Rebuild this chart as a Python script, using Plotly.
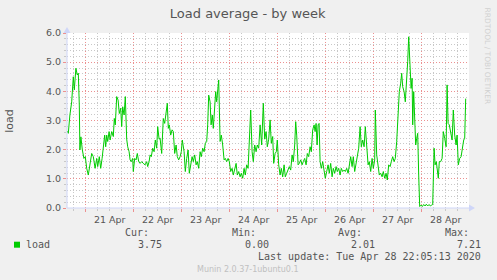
import plotly.graph_objects as go
import pandas as pd

# ---------------- data ----------------
# hours relative to 2020-04-21 00:00
hours = [-9.2, -8.7, -7.9, -7.0, -6.2, -5.7, -4.9, -4.2, -3.7, -3.2, -2.9, -2.4, -1.7, -0.9, -0.2,
         0.5, 1.3, 2.2, 3.0, 3.8, 4.7, 5.5, 6.0, 6.8, 7.5, 8.2, 8.8, 9.5, 10.0, 10.5, 11.0, 11.7,
         12.2, 13.0, 13.8, 14.3, 14.8, 15.5, 16.2, 16.8, 17.5, 18.0, 18.5, 19.2, 19.8, 20.5, 21.0,
         21.7, 22.2, 22.8, 23.5, 23.8, 24.5, 25.2, 25.8, 26.5, 27.2, 28.0, 28.8, 29.7, 30.5, 31.0,
         31.7, 32.2, 32.8, 33.5, 34.2, 34.8, 35.5, 36.0, 36.7, 37.2, 38.0, 38.8, 39.5, 40.2, 40.8,
         41.3, 41.8, 42.5, 43.2, 43.8, 44.5, 45.2, 45.8, 46.5, 47.2, 47.8, 48.3, 49.2, 49.8, 50.5,
         51.2, 51.8, 52.5, 53.2, 53.8, 54.5, 55.2, 55.8, 56.5, 57.2, 57.8, 58.5, 59.2, 59.8, 60.5,
         61.0, 61.5, 62.2, 62.7, 63.3, 63.8, 64.5, 65.0, 65.5, 66.0, 66.5, 67.2, 67.8, 68.5, 69.2,
         69.8, 70.5, 71.2, 71.8, 72.5, 73.2, 73.8, 74.5, 75.2, 75.8, 76.5, 77.2, 77.8, 78.5, 79.2,
         79.8, 80.5, 81.2, 81.8, 82.5, 83.2, 83.8, 84.5, 85.2, 85.8, 86.5, 87.2, 88.0, 88.8, 89.5,
         90.2, 90.8, 91.5, 92.2, 92.8, 93.5, 94.0, 94.7, 95.3, 95.8, 96.5, 97.2, 97.8, 98.5, 99.2,
         99.8, 100.5, 101.2, 101.8, 102.5, 103.2, 103.8, 104.5, 105.0, 105.5, 106.2, 106.8, 107.5,
         108.2, 108.8, 109.5, 110.2, 110.8, 111.5, 112.2, 112.8, 113.5, 114.2, 114.7, 115.2, 115.7,
         116.2, 116.7, 117.2, 117.8, 118.5, 119.2, 119.8, 120.5, 121.2, 121.8, 122.5, 123.2, 123.8,
         124.5, 125.2, 125.8, 126.5, 127.2, 127.8, 128.5, 129.2, 129.8, 130.5, 131.2, 131.8, 132.5,
         133.2, 133.8, 134.5, 135.2, 135.8, 136.5, 137.2, 137.8, 138.5, 139.2, 139.8, 140.5, 141.2,
         141.8, 142.5, 143.2, 143.8, 144.5, 144.8, 145.5, 146.2, 146.8, 147.5, 148.2, 148.8, 149.5,
         150.2, 150.8, 151.5, 152.2, 152.8, 153.5, 154.2, 154.8, 155.5, 156.2, 156.8, 157.5, 158.0,
         158.5, 159.2, 159.8, 160.5, 161.0, 161.5, 162.2, 162.7, 163.2, 163.5, 164.0, 164.5, 165.0,
         165.5, 166.0, 166.5, 167.0, 167.7, 168.3, 169.0, 169.7, 170.3, 171.0, 171.7, 172.3, 173.0,
         173.5, 174.2, 174.7, 175.3, 175.8, 176.3, 176.8, 177.5, 178.2, 178.8, 179.5, 180.2, 180.7,
         181.2, 181.8, 182.5, 183.2, 183.8, 184.5, 185.2, 185.7, 186.3, 187.0, 187.7, 188.3, 189.0,
         189.5, 190.0]

load = [2.64, 2.56, 3.19, 3.64, 4.50, 4.05, 4.79, 4.56, 4.62, 3.53, 1.99, 2.44, 2.00, 1.70, 1.76,
        1.36, 1.13, 1.48, 1.87, 1.76, 1.36, 1.70, 1.42, 1.76, 1.36, 1.70, 2.16, 2.50, 2.10, 2.50,
        2.28, 2.62, 2.33, 2.62, 2.45, 3.07, 2.85, 3.82, 3.70, 3.24, 3.42, 2.79, 3.47, 3.19, 3.82,
        2.36, 2.10, 1.93, 1.65, 1.59, 1.70, 1.25, 1.70, 1.65, 1.87, 1.59, 1.53, 1.59, 1.53, 1.48,
        1.59, 1.42, 1.59, 1.82, 1.76, 2.05, 1.93, 2.33, 2.05, 2.79, 2.36, 2.39, 1.87, 3.07, 2.90,
        3.19, 3.59, 2.73, 2.85, 2.50, 2.68, 2.62, 1.87, 2.16, 1.76, 1.65, 1.76, 1.93, 2.33, 1.93,
        1.25, 1.70, 1.99, 1.19, 1.48, 1.76, 1.59, 1.82, 1.48, 1.59, 1.36, 1.93, 1.76, 2.05, 1.93,
        2.22, 2.28, 2.85, 3.87, 3.64, 2.85, 3.19, 2.73, 3.30, 3.99, 3.64, 4.05, 4.39, 2.28, 2.50,
        2.16, 1.65, 1.70, 1.59, 1.70, 1.59, 1.25, 1.36, 1.13, 1.30, 1.53, 1.13, 1.25, 1.07, 1.19,
        1.02, 1.36, 1.13, 1.48, 1.36, 2.16, 3.36, 1.93, 1.59, 2.16, 1.93, 2.16, 2.05, 2.85, 2.16,
        3.59, 2.36, 2.62, 2.10, 2.36, 3.02, 2.22, 2.45, 1.53, 1.87, 1.93, 2.33, 1.48, 1.13, 1.36,
        1.07, 1.48, 1.07, 1.19, 1.36, 1.42, 1.30, 1.82, 1.59, 2.16, 2.96, 2.50, 1.48, 1.53, 1.65,
        1.48, 1.59, 1.70, 1.48, 1.87, 1.76, 2.10, 1.93, 2.68, 2.85, 2.62, 2.90, 2.16, 2.85, 2.90,
        1.59, 1.36, 1.59, 1.19, 1.02, 1.25, 1.48, 1.19, 1.53, 1.07, 1.36, 1.19, 1.42, 1.25, 1.36,
        1.13, 1.36, 1.25, 1.30, 1.25, 1.36, 1.19, 1.48, 1.76, 1.42, 1.76, 1.25, 1.59, 1.87, 2.05,
        2.79, 2.10, 2.33, 2.10, 2.79, 2.05, 1.48, 1.59, 1.25, 1.70, 1.36, 1.65, 3.36, 1.82, 1.36,
        1.13, 1.19, 1.07, 1.25, 1.02, 1.19, 0.96, 1.48, 1.42, 1.59, 1.76, 1.59, 1.70, 2.28, 3.07,
        3.99, 4.28, 4.62, 4.16, 3.99, 3.64, 4.39, 5.02, 5.87, 4.67, 4.10, 4.45, 2.85, 3.99, 2.62,
        2.16, 2.39, 2.56, 1.13, 0.05, 0.10, 0.05, 0.12, 0.07, 0.13, 0.07, 0.12, 0.07, 0.10, 0.12,
        2.05, 1.48, 1.59, 1.25, 1.02, 1.59, 1.59, 1.70, 2.62, 2.39, 2.10, 4.22, 2.90, 2.85, 2.56,
        2.33, 3.36, 2.50, 2.16, 2.50, 1.48, 1.70, 1.76, 2.05, 2.33, 2.39, 3.75]

series_name = "load"
stat_labels = ["Cur:", "Min:", "Avg:", "Max:"]
stat_values = ["3.75", "0.00", "2.01", "7.21"]
title_text = "Load average - by week"
y_title = "load"
last_update = "Last update: Tue Apr 28 22:05:13 2020"
footer = "Munin 2.0.37-1ubuntu0.1"
watermark = "RRDTOOL / TOBI OETIKER"

base = pd.Timestamp("2020-04-21 00:00")
times = [base + pd.Timedelta(hours=h) for h in hours]
x_start = base + pd.Timedelta(hours=-9.35)
x_end = base + pd.Timedelta(hours=191.65)

# ---------------- layout helpers ----------------
W, H = 497, 280
L, R, T, B = 67, 28, 33, 72
PW, PH = W - L - R, H - T - B


def px(x):
    return (x - L) / PW


def py(y):
    return (H - B - y) / PH


FONT = "DejaVu Sans"
MONO = "DejaVu Sans Mono"
TXT = "#555555"
GREEN = "#00CC00"
AXIS = "#CFD6F8"
MGRID = "#EC9090"
GRID = "#C8C8C8"

fig = go.Figure()
fig.add_trace(go.Scatter(x=times, y=load, mode="lines",
                         line=dict(color=GREEN, width=1), showlegend=False,
                         hoverinfo="skip"))

fig.update_layout(
    width=W, height=H,
    margin=dict(l=L, r=R, t=T, b=B, pad=0),
    paper_bgcolor="#F0F0F0", plot_bgcolor="#FFFFFF",
    font=dict(family=FONT, size=10, color=TXT),
    title=dict(text=title_text, x=247.7 / W, y=1 - 13.5 / H, xanchor="center",
               yanchor="middle", xref="container", yref="container",
               font=dict(family=FONT, size=13, color=TXT)),
    xaxis=dict(type="date", range=[x_start, x_end], tick0="2020-04-21",
               dtick=86400000, ticklabelmode="period", tickformat="%d %b",
               showgrid=True, gridcolor=MGRID, griddash="1px,2px", gridwidth=1,
               ticks="outside", ticklen=3, tickcolor=MGRID,
               tickfont=dict(family=FONT, size=9.5, color=TXT),
               minor=dict(dtick=6 * 3600000, showgrid=True, gridcolor=GRID,
                          griddash="1px,2px", ticks="outside", ticklen=2,
                          tickcolor=GRID),
               showline=False, zeroline=False, fixedrange=True),
    yaxis=dict(range=[0, 6], dtick=1, tick0=0, tickformat=".1f",
               showgrid=True, gridcolor=MGRID, griddash="1px,2px", gridwidth=1,
               ticks="outside", ticklen=3, tickcolor=MGRID,
               tickfont=dict(family=FONT, size=9.5, color=TXT),
               minor=dict(dtick=0.2, showgrid=True, gridcolor=GRID,
                          griddash="1px,2px", ticks="outside", ticklen=2,
                          tickcolor=GRID),
               showline=False, zeroline=False, fixedrange=True),
)

shapes = []
# axis lines
shapes.append(dict(type="line", xref="paper", yref="paper", x0=px(67), x1=px(470),
                   y0=py(208), y1=py(208), line=dict(color=AXIS, width=1), layer="above"))
shapes.append(dict(type="line", xref="paper", yref="paper", x0=px(67), x1=px(67),
                   y0=py(208), y1=py(29), line=dict(color=AXIS, width=1), layer="above"))
# arrows
shapes.append(dict(type="path", xref="paper", yref="paper",
                   path=f"M {px(469)} {py(204.5)} L {px(475)} {py(208)} L {px(469)} {py(211.5)} Z",
                   fillcolor=AXIS, line=dict(color=AXIS, width=0), layer="above"))
shapes.append(dict(type="path", xref="paper", yref="paper",
                   path=f"M {px(63.5)} {py(33)} L {px(67)} {py(27)} L {px(70.5)} {py(33)} Z",
                   fillcolor=AXIS, line=dict(color=AXIS, width=0), layer="above"))
# legend swatch
shapes.append(dict(type="rect", xref="paper", yref="paper", x0=px(14), x1=px(20),
                   y0=py(247.7), y1=py(241.7), fillcolor=GREEN, line=dict(width=0)))
fig.update_layout(shapes=shapes)

ann = []
ann.append(dict(text=y_title, x=px(10), y=py(120.8), xref="paper", yref="paper",
                textangle=-90, showarrow=False, xanchor="center", yanchor="middle",
                font=dict(family=FONT, size=11, color=TXT)))
ann.append(dict(text=watermark, x=px(487.5), y=py(56), xref="paper", yref="paper",
                textangle=90, showarrow=False, xanchor="center", yanchor="middle",
                font=dict(family=FONT, size=7.5, color="#D0D0D0")))
ann.append(dict(text=series_name, x=px(25), y=py(244.7), xref="paper", yref="paper",
                showarrow=False, xanchor="left", yanchor="middle",
                font=dict(family=MONO, size=10, color=TXT)))
label_right = [150, 257, 363, 470]
value_right = [163, 270, 376, 482]
for lab, val, lx, vx in zip(stat_labels, stat_values, label_right, value_right):
    ann.append(dict(text=lab, x=px(lx), y=py(232.7), xref="paper", yref="paper",
                    showarrow=False, xanchor="right", yanchor="middle",
                    font=dict(family=MONO, size=10, color=TXT)))
    ann.append(dict(text=val, x=px(vx), y=py(244.7), xref="paper", yref="paper",
                    showarrow=False, xanchor="right", yanchor="middle",
                    font=dict(family=MONO, size=10, color=TXT)))
ann.append(dict(text=last_update, x=px(482), y=py(256.7), xref="paper", yref="paper",
                showarrow=False, xanchor="right", yanchor="middle",
                font=dict(family=MONO, size=10, color=TXT)))
ann.append(dict(text=footer, x=px(248), y=py(269), xref="paper", yref="paper",
                showarrow=False, xanchor="center", yanchor="middle",
                font=dict(family=FONT, size=8, color="#C0C0C0")))
for a in ann:
    a["borderpad"] = 0
fig.update_layout(annotations=ann)

fig.write_html("out.html", config={"displayModeBar": False})
